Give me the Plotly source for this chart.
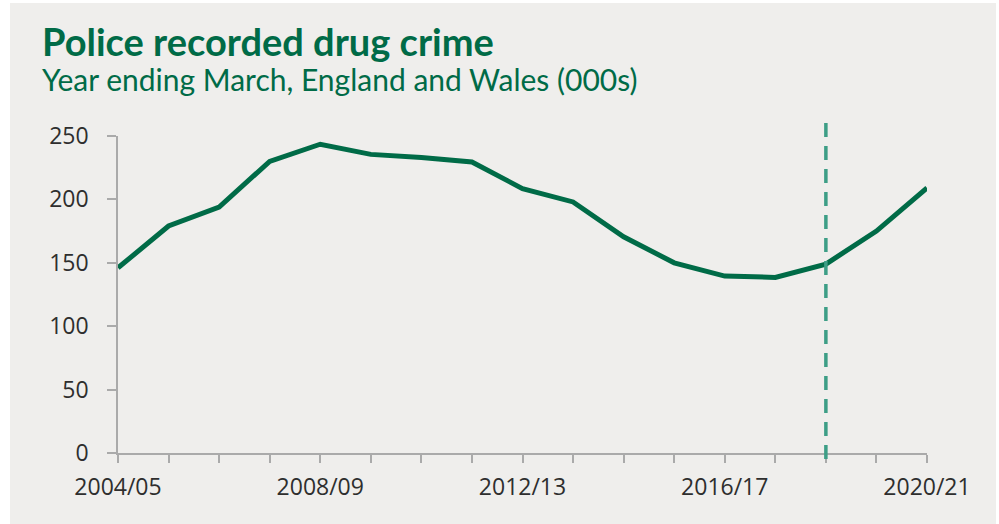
import plotly.graph_objects as go

# Police recorded drug offences, year ending March (thousands)
years = ["2004/05", "2005/06", "2006/07", "2007/08", "2008/09", "2009/10",
         "2010/11", "2011/12", "2012/13", "2013/14", "2014/15", "2015/16",
         "2016/17", "2017/18", "2018/19", "2019/20", "2020/21"]
offences = [146, 179, 194, 230, 243.5, 235.5, 233, 229.5, 208.5, 198, 170.5,
            150, 139.5, 138.5, 149, 175, 209]
labelled_years = ["2004/05", "2008/09", "2012/13", "2016/17", "2020/21"]
marker_year = "2018/19"
y_ticks = [0, 50, 100, 150, 200, 250]

GREEN = "#006b47"
TEAL = "#3d9e86"
PANEL = "#efeeec"
AXIS = "#aaaaaa"
TEXT = "#2e2e2e"

W, H = 999, 524
L, R, T, B = 118, 72, 136, 71
plot_w = W - L - R
plot_h = H - T - B

xs = list(range(len(years)))

fig = go.Figure()
fig.add_trace(go.Scatter(
    x=xs, y=offences, mode="lines",
    line=dict(color=GREEN, width=5),
    hoverinfo="skip", showlegend=False,
))

def px_x(p):
    return (p - L) / plot_w

def px_y(p):
    return (H - B - p) / plot_h

mx = years.index(marker_year)
fig.add_shape(type="rect", xref="paper", yref="paper",
              x0=px_x(10), x1=px_x(996), y0=px_y(524), y1=px_y(3),
              fillcolor=PANEL, line=dict(width=0), layer="below")
fig.add_shape(type="line", xref="x", yref="paper",
              x0=mx, x1=mx, y0=px_y(459), y1=px_y(121),
              line=dict(color=TEAL, width=3.5, dash="14px,9px"))

fig.add_annotation(xref="paper", yref="paper", x=px_x(40), y=px_y(16),
                   xanchor="left", yanchor="top", showarrow=False,
                   text="<b>Police recorded drug crime</b>",
                   font=dict(family="Lato", size=38, color=GREEN))
fig.add_annotation(xref="paper", yref="paper", x=px_x(40), y=px_y(59),
                   xanchor="left", yanchor="top", showarrow=False,
                   text="Year ending March, England and Wales (000s)",
                   font=dict(family="Lato", size=30, color=GREEN))

fig.update_layout(
    width=W, height=H,
    margin=dict(l=L, r=R, t=T, b=B),
    paper_bgcolor="white", plot_bgcolor="rgba(0,0,0,0)",
    font=dict(family="Open Sans", size=23, color=TEXT),
)
fig.update_xaxes(
    range=[0, len(years) - 1],
    tickvals=xs,
    ticktext=[y if y in labelled_years else "" for y in years],
    ticks="outside", ticklen=8, tickcolor=AXIS, tickwidth=1.5,
    showline=True, linecolor=AXIS, linewidth=1.5,
    showgrid=False, zeroline=False, ticklabelstandoff=5,
    tickfont=dict(family="Open Sans", size=23, color=TEXT),
)
fig.update_yaxes(
    range=[0, 250], tickvals=y_ticks,
    ticks="outside", ticklen=9, tickcolor=AXIS, tickwidth=1.5,
    showline=True, linecolor=AXIS, linewidth=1.5,
    showgrid=False, zeroline=False, ticklabelstandoff=14,
    tickfont=dict(family="Open Sans", size=23, color=TEXT),
)

fig.write_html("out.html")
